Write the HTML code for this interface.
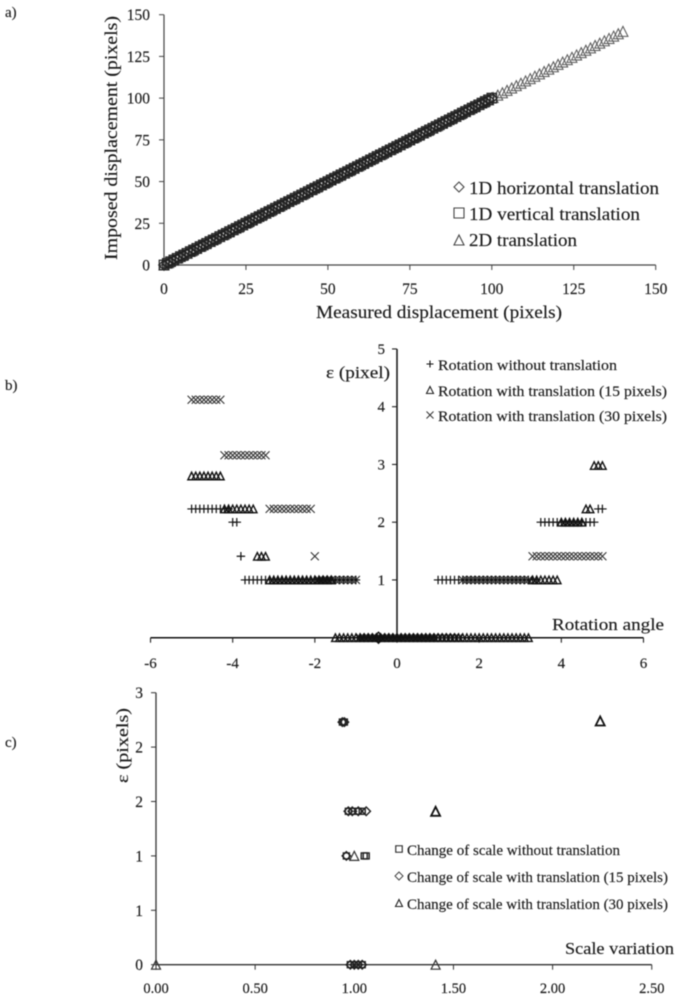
<!DOCTYPE html>
<html lang="en">
<head>
<meta charset="utf-8">
<title>Displacement, rotation and scale error charts</title>
<style>
html,body{margin:0;padding:0;background:#fff;}
body{width:679px;height:1000px;overflow:hidden;}
svg{display:block;filter:blur(0.4px);}
text{font-family:"Liberation Serif",serif;fill:#1a1a1a;stroke:#1a1a1a;stroke-width:0.15;}
</style>
</head>
<body>
<svg id="figure" xmlns="http://www.w3.org/2000/svg" width="679" height="1000" viewBox="0 0 679 1000">
<rect width="679" height="1000" fill="#fff"/>
<g id="layer"></g>
</svg>
<script>
// ---------- Chart a data ----------
const aTicks = [0, 25, 50, 75, 100, 125, 150];
const aHorizontal = [0,1,2,3,4,5,6,7,8,9,10,11,12,13,14,15,16,17,18,19,20,21,22,23,24,25,26,27,28,29,30,31,32,33,34,35,36,37,38,39,40,41,42,43,44,45,46,47,48,49,50,51,52,53,54,55,56,57,58,59,60,61,62,63,64,65,66,67,68,69,70,71,72,73,74,75,76,77,78,79,80,81,82,83,84,85,86,87,88,89,90,91,92,93,94,95,96,97,98,99,100];
const aVertical = [0,1,2,3,4,5,6,7,8,9,10,11,12,13,14,15,16,17,18,19,20,21,22,23,24,25,26,27,28,29,30,31,32,33,34,35,36,37,38,39,40,41,42,43,44,45,46,47,48,49,50,51,52,53,54,55,56,57,58,59,60,61,62,63,64,65,66,67,68,69,70,71,72,73,74,75,76,77,78,79,80,81,82,83,84,85,86,87,88,89,90,91,92,93,94,95,96,97,98,99,100];
const aDiagonal = [0,1.41,2.83,4.24,5.66,7.07,8.49,9.9,11.31,12.73,14.14,15.56,16.97,18.38,19.8,21.21,22.63,24.04,25.46,26.87,28.28,29.7,31.11,32.53,33.94,35.36,36.77,38.18,39.6,41.01,42.43,43.84,45.25,46.67,48.08,49.5,50.91,52.33,53.74,55.15,56.57,57.98,59.4,60.81,62.23,63.64,65.05,66.47,67.88,69.3,70.71,72.12,73.54,74.95,76.37,77.78,79.2,80.61,82.02,83.44,84.85,86.27,87.68,89.1,90.51,91.92,93.34,94.75,96.17,97.58,98.99,100.41,101.82,103.24,104.65,106.07,107.48,108.89,110.31,111.72,113.14,114.55,115.97,117.38,118.79,120.21,121.62,123.04,124.45,125.87,127.28,128.69,130.11,131.52,132.94,134.35,135.76,137.18,138.59,140.01];

// ---------- Chart b data ----------
const bXTicks = [-6, -4, -2, 0, 2, 4, 6];
const bYTicks = [1, 2, 3, 4, 5];
const bAngles = [-5,-4.9,-4.8,-4.7,-4.6,-4.5,-4.4,-4.3,-4.2,-4.1,-4,-3.9,-3.8,-3.7,-3.6,-3.5,-3.4,-3.3,-3.2,-3.1,-3,-2.9,-2.8,-2.7,-2.6,-2.5,-2.4,-2.3,-2.2,-2.1,-2,-1.9,-1.8,-1.7,-1.6,-1.5,-1.4,-1.3,-1.2,-1.1,-1,-0.9,-0.8,-0.7,-0.6,-0.5,-0.4,-0.3,-0.2,-0.1,0,0.1,0.2,0.3,0.4,0.5,0.6,0.7,0.8,0.9,1,1.1,1.2,1.3,1.4,1.5,1.6,1.7,1.8,1.9,2,2.1,2.2,2.3,2.4,2.5,2.6,2.7,2.8,2.9,3,3.1,3.2,3.3,3.4,3.5,3.6,3.7,3.8,3.9,4,4.1,4.2,4.3,4.4,4.5,4.6,4.7,4.8,4.9,5];
const bNoTranslation = [2.23,2.23,2.23,2.23,2.23,2.23,2.23,2.23,2.23,2.23,2,2,1.41,1,1,1,1,1,1,1,1,1,1,1,1,1,1,1,1,1,1,1,1,1,1,1,1,1,1,1,1,0,0,0,0,0,0,0,0,0,0,0,0,0,0,0,0,0,0,0,1,1,1,1,1,1,1,1,1,1,1,1,1,1,1,1,1,1,1,1,1,1,1,1,1,2,2,2,2,2,2,2,2,2,2,2,2,2,2,2.23,2.23];
const bTranslation15 = [2.8,2.8,2.8,2.8,2.8,2.8,2.8,2.8,2.23,2.23,2.23,2.23,2.23,2.23,2.23,2.23,1.41,1.41,1.41,1,1,1,1,1,1,1,1,1,1,1,1,1,1,1,1,0,0,0,0,0,0,0,0,0,0,0,0,0,0,0,0,0,0,0,0,0,0,0,0,0,0,0,0,0,0,0,0,0,0,0,0,0,0,0,0,0,0,0,0,0,0,0,0,1,1,1,1,1,1,1,2,2,2,2,2,2,2.23,2.23,2.98,2.98,2.98];
const bTranslation30 = [4.12,4.12,4.12,4.12,4.12,4.12,4.12,4.12,3.16,3.16,3.16,3.16,3.16,3.16,3.16,3.16,3.16,3.16,3.16,2.23,2.23,2.23,2.23,2.23,2.23,2.23,2.23,2.23,2.23,2.23,1.41,1,1,1,1,1,1,1,1,1,1,0,0,0,0,0,0,0,0,0,0,0,0,0,0,0,0,0,0,0,0,0,0,0,0,0,1,1,1,1,1,1,1,1,1,1,1,1,1,1,1,1,1,1.41,1.41,1.41,1.41,1.41,1.41,1.41,1.41,1.41,1.41,1.41,1.41,1.41,1.41,1.41,1.41,1.41,1.41];
const bExtraX = [-0.45];
const bExtraY = [0];

// ---------- Chart c data ----------
const cXTicks = [0, 0.5, 1, 1.5, 2, 2.5];
const cXTickLabels = ["0.00", "0.50", "1.00", "1.50", "2.00", "2.50"];
const cYTicks = [0, 0.5, 1, 1.5, 2, 2.5];
const cYTickLabels = ["0", "1", "1", "2", "2", "3"];
const cSquareX = [0.94, 0.95, 0.96, 1.05, 1.06, 0.97, 0.99, 1.02, 1.04, 0.98, 1.0, 1.02, 1.04];
const cSquareY = [2.23, 2.23, 1, 1, 1, 1.41, 1.41, 1.41, 1.41, 0, 0, 0, 0];
const cDiamondX = [0.94, 0.95, 0.96, 0.97, 0.99, 1.02, 1.06, 0.98, 1.0, 1.02, 1.04];
const cDiamondY = [2.23, 2.23, 1, 1.41, 1.41, 1.41, 1.41, 0, 0, 0, 0];
const cTriangleX = [0, 1.0, 1.41, 1.41, 2.24];
const cTriangleY = [0, 1, 0, 1.41, 2.24];

// ---------- Axis functions ----------
const ax = v => 164 + v * 3.278;
const ay = v => 265 - v * 1.6687;
const bx = v => 397 + v * 41.08;
const by = v => 637.7 - v * 57.75;
const cx = v => 156 + v * 198.3;
const cy = v => 964.7 - v * 108.8;

const NS = "http://www.w3.org/2000/svg";
const layer = document.getElementById("layer");

function shape(tag, attrs, parent) {
  const el = document.createElementNS(NS, tag);
  for (const k in attrs) el.setAttribute(k, attrs[k]);
  (parent || layer).appendChild(el);
  return el;
}
function group(name) {
  const g = document.createElementNS(NS, "g");
  
  
  layer.appendChild(g);
  return g;
}
function markerPath(kind, x, y, s) {
  const h = s / 2;
  if (kind === "diamond") return `M${x} ${y-h}L${x+h} ${y}L${x} ${y+h}L${x-h} ${y}Z`;
  if (kind === "square") return `M${x-h} ${y-h}H${x+h}V${y+h}H${x-h}Z`;
  if (kind === "triangle") return `M${x} ${y-h}L${x+h} ${y+h}H${x-h}Z`;
  if (kind === "plus") return `M${x-h} ${y}H${x+h}M${x} ${y-h}V${y+h}`;
  return `M${x-h} ${y-h}L${x+h} ${y+h}M${x-h} ${y+h}L${x+h} ${y-h}`;
}
function marker(kind, x, y, s, color, width, parent, name) {
  const el = shape("path", {d: markerPath(kind, x, y, s), fill: "none", stroke: color, "stroke-width": width}, parent);
  
  
  return el;
}
function label(str, x, y, size, anchor, name, opts) {
  const el = document.createElementNS(NS, "text");
  el.setAttribute("x", x);
  el.setAttribute("y", y);
  el.setAttribute("font-size", size);
  el.setAttribute("text-anchor", anchor || "start");
  if (opts && opts.length) {
    el.setAttribute("textLength", opts.length);
    el.setAttribute("lengthAdjust", "spacingAndGlyphs");
  }
  if (opts && opts.rotate) el.setAttribute("transform", `rotate(-90 ${x} ${y})`);
  el.textContent = str;
  
  
  layer.appendChild(el);
  return el;
}
function line(x1, y1, x2, y2, color, width, name) {
  const el = shape("line", {x1, y1, x2, y2, stroke: color, "stroke-width": width});
  
  
  return el;
}

// ---------- Panel labels ----------
label("a)", 5, 17, 15, "start", "panel-label-a");
label("b)", 5, 390, 15, "start", "panel-label-b");
label("c)", 5, 747, 15, "start", "panel-label-c");

// ---------- Chart a ----------
line(ax(0), ay(0), ax(150), ay(0), "#444", 1.2, "a-x-axis");
line(ax(0), ay(0), ax(0), ay(150), "#444", 1.2, "a-y-axis");
aTicks.forEach(t => {
  line(ax(t), ay(0), ax(t), ay(0) + 5, "#444", 1, "a-x-tick");
  line(ax(0) - 5, ay(t), ax(0), ay(t), "#444", 1, "a-y-tick");
  label(String(t), ax(t), 294, 15.5, "middle", "a-x-tick-label");
  label(String(t), 150, ay(t) + 5.5, 15.5, "end", "a-y-tick-label");
});
const aTri = group("a-series-2d-translation");
aDiagonal.forEach(v => marker("triangle", ax(v), ay(v), 10, "#555", 1, aTri, "a-point-2d"));
const aSq = group("a-series-1d-vertical");
aVertical.forEach(v => marker("square", ax(v), ay(v), 9.5, "#222", 1.2, aSq, "a-point-vertical"));
const aDia = group("a-series-1d-horizontal");
aHorizontal.forEach(v => marker("diamond", ax(v), ay(v), 10.5, "#222", 1.2, aDia, "a-point-horizontal"));
label("Measured displacement (pixels)", 316, 318, 18, "start", "a-x-axis-title", {length: 246});
label("Imposed displacement (pixels)", 117, 260, 18, "start", "a-y-axis-title", {length: 244, rotate: true});
const aLeg = group("a-legend");
marker("diamond", 459, 187, 10, "#444", 1.1, aLeg, "a-legend-diamond");
marker("square", 459, 213, 10, "#444", 1.1, aLeg, "a-legend-square");
marker("triangle", 459, 240, 10, "#444", 1.1, aLeg, "a-legend-triangle");
label("1D horizontal translation", 469, 194, 18, "start", "a-legend-horizontal", {length: 190});
label("1D vertical translation", 469, 220, 18, "start", "a-legend-vertical", {length: 171});
label("2D translation", 469, 246, 18, "start", "a-legend-2d", {length: 108});

// ---------- Chart b ----------
line(bx(-6), by(0), bx(6), by(0), "#111", 1.5, "b-x-axis");
line(bx(0), by(0), bx(0), by(5), "#111", 1.5, "b-y-axis");
bXTicks.forEach(t => {
  line(bx(t), by(0), bx(t), by(0) + 5, "#222", 1.1, "b-x-tick");
  label(String(t), bx(t), 668, 15, "middle", "b-x-tick-label");
});
bYTicks.forEach(t => {
  line(bx(0) - 5, by(t), bx(0), by(t), "#222", 1.1, "b-y-tick");
  label(String(t), 385, by(t) + 5, 15, "end", "b-y-tick-label");
});
const bCross = group("b-series-translation-30");
bAngles.forEach((a, i) => marker("cross", bx(a), by(bTranslation30[i]), 8, "#333", 1.1, bCross, "b-point-30"));
const bTri = group("b-series-translation-15");
bAngles.forEach((a, i) => marker("triangle", bx(a), by(bTranslation15[i]), 7.5, "#111", 1.4, bTri, "b-point-15"));
const bPlus = group("b-series-no-translation");
bAngles.forEach((a, i) => marker("plus", bx(a), by(bNoTranslation[i]), 8.5, "#111", 1.2, bPlus, "b-point-none"));
const bExtra = group("b-series-extra");
bExtraX.forEach((x, i) => marker("diamond", bx(x), by(bExtraY[i]), 11, "#111", 1.4, bExtra, "b-point-extra"));
label("ε (pixel)", 326, 378, 16.5, "start", "b-y-axis-title", {length: 64});
label("Rotation angle", 552, 630, 17, "start", "b-x-axis-title", {length: 112});
const bLeg = group("b-legend");
marker("plus", 430, 364, 7, "#111", 1.1, bLeg, "b-legend-plus");
marker("triangle", 430, 390, 7, "#222", 1.1, bLeg, "b-legend-triangle");
marker("cross", 430, 415, 7, "#333", 1, bLeg, "b-legend-cross");
label("Rotation without translation", 438, 370, 14.5, "start", "b-legend-none", {length: 179});
label("Rotation with translation (15 pixels)", 438, 396, 14.5, "start", "b-legend-15", {length: 229});
label("Rotation with translation (30 pixels)", 438, 421, 14.5, "start", "b-legend-30", {length: 229});

// ---------- Chart c ----------
line(cx(0), cy(0), cx(2.5), cy(0), "#333", 1.3, "c-x-axis");
line(cx(0), cy(0), cx(0), cy(2.5), "#333", 1.3, "c-y-axis");
cXTicks.forEach((t, i) => {
  line(cx(t), cy(0), cx(t), cy(0) + 5, "#333", 1, "c-x-tick");
  label(cXTickLabels[i], cx(t), 993, 14.5, "middle", "c-x-tick-label");
});
cYTicks.forEach((t, i) => {
  line(cx(0) - 5, cy(t), cx(0), cy(t), "#333", 1, "c-y-tick");
  label(cYTickLabels[i], 143, cy(t) + 5.5, 15.5, "end", "c-y-tick-label");
});
const cSq = group("c-series-no-translation");
cSquareX.forEach((x, i) => marker("square", cx(x), cy(cSquareY[i]), 6, "#222", 1.4, cSq, "c-point-square"));
const cDia = group("c-series-translation-15");
cDiamondX.forEach((x, i) => marker("diamond", cx(x), cy(cDiamondY[i]), 8.5, "#222", 1.4, cDia, "c-point-diamond"));
const cTri = group("c-series-translation-30");
cTriangleX.forEach((x, i) => marker("triangle", cx(x), cy(cTriangleY[i]), 9, i >= 3 ? "#111" : "#333", i >= 3 ? 1.8 : 1.2, cTri, "c-point-triangle"));
label("ε  (pixels)", 128, 783, 16.5, "start", "c-y-axis-title", {length: 75, rotate: true});
label("Scale variation", 565, 954, 17, "start", "c-x-axis-title", {length: 109});
const cLeg = group("c-legend");
marker("square", 399, 849, 6.5, "#222", 1.1, cLeg, "c-legend-square");
marker("diamond", 399, 876, 8, "#444", 1, cLeg, "c-legend-diamond");
marker("triangle", 399, 903, 7, "#222", 1.1, cLeg, "c-legend-triangle");
label("Change of scale without translation", 407, 855, 14.5, "start", "c-legend-none", {length: 213});
label("Change of scale with translation (15 pixels)", 407, 882, 14.5, "start", "c-legend-15", {length: 261});
label("Change of scale with translation (30 pixels)", 407, 909, 14.5, "start", "c-legend-30", {length: 261});
</script>
</body>
</html>
